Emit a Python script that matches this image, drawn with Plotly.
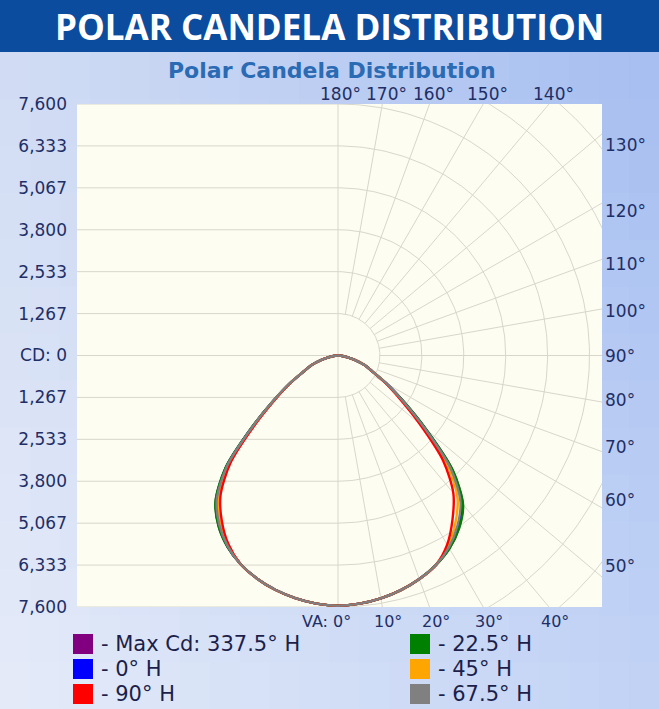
import numpy as np
import plotly.graph_objects as go

# ---------------- data ----------------
vertical_angles = [0, 5, 10, 15, 20, 25, 30, 35, 40, 45, 50, 55, 60, 65, 70, 75, 80, 85, 90]

# right half of the polar plot (candela by vertical angle)
cd_max_337_5_right = [7560, 7525, 7450, 7340, 7190, 6990, 6730, 6365, 5860, 4890, 3475, 2410, 1690, 1150, 850, 520, 260, 90, 0]
cd_0_right = [7560, 7525, 7450, 7340, 7190, 6990, 6712, 6320, 5800, 4836, 3442, 2392, 1684, 1150, 850, 520, 260, 90, 0]
cd_90_right = [7560, 7525, 7450, 7340, 7190, 6990, 6598, 6035, 5420, 4494, 3233, 2278, 1646, 1150, 850, 520, 260, 90, 0]
cd_22_5_right = [7560, 7525, 7450, 7340, 7190, 6990, 6736, 6380, 5880, 4908, 3486, 2416, 1692, 1150, 850, 520, 260, 90, 0]
cd_45_right = [7560, 7525, 7450, 7340, 7190, 6990, 6658, 6185, 5620, 4674, 3343, 2338, 1666, 1150, 850, 520, 260, 90, 0]
cd_67_5_right = [7560, 7525, 7450, 7340, 7190, 6990, 6700, 6290, 5760, 4800, 3420, 2380, 1680, 1150, 850, 520, 260, 90, 0]

# left half of the polar plot (opposite side of each plane)
cd_max_337_5_left = [7560, 7525, 7445, 7330, 7170, 6960, 6675, 6288, 5750, 4805, 3428, 2385, 1680, 1145, 845, 518, 258, 90, 0]
cd_0_left = [7560, 7525, 7445, 7330, 7170, 6960, 6666, 6265, 5720, 4778, 3411, 2376, 1677, 1145, 845, 518, 258, 90, 0]
cd_90_left = [7560, 7525, 7445, 7330, 7170, 6960, 6607, 6119, 5525, 4603, 3304, 2318, 1658, 1145, 845, 518, 258, 90, 0]
cd_22_5_left = [7560, 7525, 7445, 7330, 7170, 6960, 6678, 6295, 5760, 4814, 3433, 2388, 1681, 1145, 845, 518, 258, 90, 0]
cd_45_left = [7560, 7525, 7445, 7330, 7170, 6960, 6642, 6205, 5640, 4706, 3367, 2352, 1669, 1145, 845, 518, 258, 90, 0]
cd_67_5_left = [7560, 7525, 7445, 7330, 7170, 6960, 6660, 6250, 5700, 4760, 3400, 2370, 1675, 1145, 845, 518, 258, 90, 0]

series_labels = ["- Max Cd: 337.5° H", "- 0° H", "- 90° H", "- 22.5° H", "- 45° H", "- 67.5° H"]
series_colors = ["#800080", "#0000ff", "#ff0000", "#008000", "#ffa500", "#808080"]
series_right = [cd_max_337_5_right, cd_0_right, cd_90_right, cd_22_5_right, cd_45_right, cd_67_5_right]
series_left = [cd_max_337_5_left, cd_0_left, cd_90_left, cd_22_5_left, cd_45_left, cd_67_5_left]

cd_scale_max = 7600
cd_tick_text = ["7,600", "6,333", "5,067", "3,800", "2,533", "1,267", "CD: 0",
                "1,267", "2,533", "3,800", "5,067", "6,333", "7,600"]
top_angle_labels = [180, 170, 160, 150, 140]
right_angle_labels = [130, 120, 110, 100, 90, 80, 70, 60, 50]
bottom_angle_labels = [0, 10, 20, 30, 40]

# ---------------- geometry ----------------
W, H = 659, 709
ML, MR, MT, MB = 77, 57, 104, 102
PW, PH = W - ML - MR, H - MT - MB
cd_per_px = 2 * cd_scale_max / PH
center_px_x = 338
x_min = -(center_px_x - ML) * cd_per_px
x_max = (W - MR - center_px_x) * cd_per_px
ring = cd_scale_max / 6


def px_x(p):
    return (p - ML) / PW


def px_y(p):
    return (H - MB - p) / PH


fig = go.Figure()

# ---------------- background (gradient + banner + cream plot) ----------------
shapes = []
c_tl, c_tr = np.array([0xd2, 0xdd, 0xf4]), np.array([0xa6, 0xbe, 0xf1])
c_bl, c_br = np.array([0xe6, 0xec, 0xf9]), np.array([0xc2, 0xd3, 0xf5])
nx, ny = 22, 14
top_bg = 52
for i in range(nx):
    for j in range(ny):
        fx = (i + 0.5) / nx
        fy = (j + 0.5) / ny
        c = (c_tl * (1 - fx) + c_tr * fx) * (1 - fy) + (c_bl * (1 - fx) + c_br * fx) * fy
        x0 = W * i / nx
        x1 = W * (i + 1) / nx + 1
        y0 = top_bg + (H - top_bg) * j / ny
        y1 = top_bg + (H - top_bg) * (j + 1) / ny + 1
        shapes.append(dict(type="rect", xref="paper", yref="paper",
                           x0=px_x(x0), x1=px_x(x1), y0=px_y(y1), y1=px_y(y0),
                           line=dict(width=0), fillcolor="rgb(%d,%d,%d)" % tuple(c.astype(int)),
                           layer="below"))
# banner
shapes.append(dict(type="rect", xref="paper", yref="paper",
                   x0=px_x(-2), x1=px_x(W + 2), y0=px_y(top_bg), y1=px_y(-2),
                   line=dict(width=0), fillcolor="#0c4c9e", layer="below"))
# cream plot area
shapes.append(dict(type="rect", xref="paper", yref="paper", x0=0, x1=1, y0=0, y1=1,
                   line=dict(width=0), fillcolor="#fdfdf1", layer="below"))

# ---------------- grid ----------------
gx, gy = [], []
th = np.radians(np.arange(0, 181, 1))
for k in range(1, 9):
    r = k * ring
    gx += list(r * np.sin(th)) + [None]
    gy += list(-r * np.cos(th)) + [None]
for a in range(10, 180, 10):
    t = np.radians(a)
    gx += [ring * np.sin(t), 12000 * np.sin(t), None]
    gy += [-ring * np.cos(t), -12000 * np.cos(t), None]
gx += [0, 0, None]
gy += [-cd_scale_max, cd_scale_max, None]
for k in range(-6, 7):
    gx += [x_min, 0, None]
    gy += [k * ring, k * ring, None]
fig.add_trace(go.Scatter(x=gx, y=gy, mode="lines", line=dict(color="#d7d7cc", width=1),
                         hoverinfo="skip", showlegend=False))

# ---------------- candela curves ----------------
va = np.radians(np.array(vertical_angles, dtype=float))
order = [0, 1, 3, 4, 2, 5]
for idx in order:
    rr = np.array(series_right[idx], dtype=float)
    rl = np.array(series_left[idx], dtype=float)
    xs = np.concatenate([-(rl * np.sin(va))[::-1], (rr * np.sin(va))[1:]])
    ys = np.concatenate([(-rl * np.cos(va))[::-1], (-rr * np.cos(va))[1:]])
    fig.add_trace(go.Scatter(x=xs, y=ys, mode="lines", name=series_labels[idx],
                             line=dict(color=series_colors[idx], width=2.4, shape="spline", smoothing=0.8),
                             showlegend=False))

# ---------------- annotations ----------------
ann = []
tick_font = dict(family="DejaVu Sans", size=17, color="#1f2f66")
bottom_font = dict(family="DejaVu Sans", size=16, color="#1f2f66")
for a in right_angle_labels:
    y = 0 if a == 90 else -x_max / np.tan(np.radians(a)) * 0.95
    ann.append(dict(x=1, xref="paper", y=y, yref="y", text=f"{a}°", showarrow=False,
                    xanchor="left", yanchor="middle", xshift=1, font=tick_font))
for a in top_angle_labels:
    x = cd_scale_max * np.tan(np.radians(180 - a))
    ann.append(dict(x=x, xref="x", y=1, yref="paper", text=f"{a}°", showarrow=False,
                    xanchor="center", yanchor="bottom", xshift=4 if a != 180 else 2, yshift=-2,
                    font=tick_font))
for a in bottom_angle_labels:
    x = cd_scale_max * np.tan(np.radians(a))
    txt = "VA: 0°" if a == 0 else f"{a}°"
    ann.append(dict(x=x, xref="x", y=0, yref="paper", text=txt, showarrow=False,
                    xanchor="center", yanchor="top", xshift=-12 if a == 0 else 6, yshift=-3,
                    font=bottom_font))

# banner title and chart subtitle
ann.append(dict(x=px_x(W / 2), y=px_y(27), xref="paper", yref="paper",
                text="<b>POLAR CANDELA DISTRIBUTION</b>", showarrow=False,
                xanchor="center", yanchor="middle",
                font=dict(family="Open Sans", size=35, color="#ffffff")))
ann.append(dict(x=px_x(332), y=px_y(70), xref="paper", yref="paper",
                text="<b>Polar Candela Distribution</b>", showarrow=False,
                xanchor="center", yanchor="middle",
                font=dict(family="DejaVu Sans", size=22, color="#2b6bb4")))

# legend (two columns, three rows)
legend_rows = [644, 669, 694]
legend_cols = [73, 410]
for n, idx in enumerate(range(6)):
    col = n // 3
    row = n % 3
    sx = legend_cols[col]
    sy = legend_rows[row]
    shapes.append(dict(type="rect", xref="paper", yref="paper",
                       x0=px_x(sx), x1=px_x(sx + 20), y0=px_y(sy + 10), y1=px_y(sy - 10),
                       line=dict(width=0), fillcolor=series_colors[idx]))
    ann.append(dict(x=px_x(sx + 26), y=px_y(sy), xref="paper", yref="paper",
                    text=series_labels[idx], showarrow=False, xanchor="left", yanchor="middle",
                    font=dict(family="DejaVu Sans", size=21, color="#1c1f4a")))

fig.update_layout(
    width=W, height=H,
    margin=dict(l=ML, r=MR, t=MT, b=MB, pad=0),
    paper_bgcolor="#c9d7f3",
    plot_bgcolor="#fdfdf1",
    shapes=shapes,
    annotations=ann,
    showlegend=False,
    xaxis=dict(range=[x_min, x_max], showgrid=False, zeroline=False, showticklabels=False,
               ticks="", showline=False, fixedrange=True, automargin=False),
    yaxis=dict(range=[-cd_scale_max, cd_scale_max], showgrid=False, zeroline=False,
               tickmode="array",
               tickvals=[cd_scale_max - k * ring for k in range(13)],
               ticktext=cd_tick_text, ticks="", ticklabelstandoff=9,
               tickfont=tick_font, showline=False, fixedrange=True, automargin=False),
)

fig.write_html("out.html",
               config={"displayModeBar": False},
               post_script="document.body.style.margin='0px';document.body.style.overflow='hidden';")
